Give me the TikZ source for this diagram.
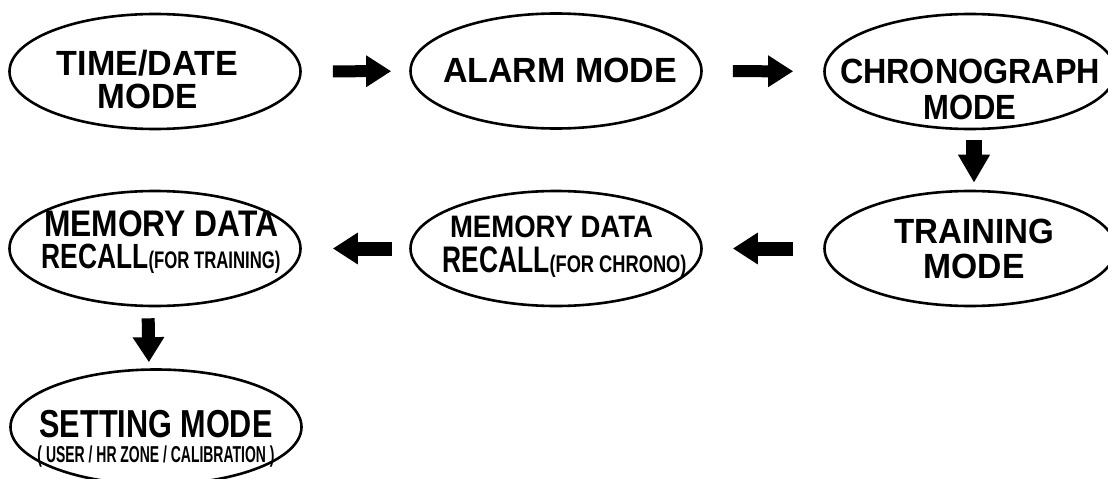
\documentclass[tikz,border=0pt]{standalone}
\usepackage{fontspec}
\setmainfont{Liberation Sans}
\usepackage{graphicx}
\usetikzlibrary{shapes.geometric, arrows.meta, positioning}

% #1 = horizontal shift, #2 = drop of the last baseline below the centre
\newcommand{\modelines}[3]{\raisebox{-#2}[0pt][0pt]{\makebox[0pt]{\kern#1\kern#1\begin{tabular}[b]{@{}c@{}}#3\end{tabular}}}}
\newcommand{\squeeze}[2]{\resizebox{#1}{\height}{#2}}
\newcommand{\fsize}[1]{\fontsize{#1}{#1}\selectfont}

\tikzset{
  modeoval/.style={draw, ellipse, line width=2.6pt, minimum width=291pt, minimum height=115pt, inner sep=0pt, font=\bfseries\fontsize{35}{42}\selectfont},
  bigarrow/.style={line width=12pt, -{Triangle[length=25pt, width=30pt]}},
}

\begin{document}
\begin{tikzpicture}[x=1pt, y=-1pt]
  \useasboundingbox (0,0) rectangle (1108,479);

  % Top row
  \node[modeoval] (timedate) at (155,71.5) {\modelines{-7.5pt}{36.5pt}{\squeeze{181pt}{TIME/DATE}\\[-9pt]\squeeze{100pt}{MODE}}};
  \node[modeoval] (alarm) at (556,71) {\modelines{4pt}{11pt}{\squeeze{234pt}{ALARM MODE}}};
  \node[modeoval] (chrono) at (970,71.5) {\modelines{0pt}{47.5pt}{\squeeze{260pt}{CHRONOGRAPH}\\[-6pt]\squeeze{93pt}{MODE}}};

  % Middle row
  \node[modeoval] (training) at (970,248.5) {\modelines{4pt}{29.5pt}{\squeeze{160pt}{TRAINING}\\[-7pt]\squeeze{101pt}{MODE}}};
  \node[modeoval] (recallchrono) at (556,248.5) {\modelines{2pt}{23.5pt}{\kern-13pt\squeeze{203pt}{\fsize{31}MEMORY DATA}\\[-7pt]\kern13pt\squeeze{107pt}{\fsize{37}RECALL}\squeeze{137pt}{\fsize{24}(FOR CHRONO)}}};
  \node[modeoval] (recalltrain) at (155,248.5) {\modelines{6pt}{19.5pt}{\squeeze{234pt}{\fsize{37}MEMORY DATA}\\[-10pt]\squeeze{107pt}{RECALL}\squeeze{132pt}{\fsize{24}(FOR TRAINING)}}};

  % Bottom
  \node[modeoval] (setting) at (156,427) {\modelines{0pt}{35pt}{\squeeze{233pt}{\fsize{39}SETTING MODE}\\[-17pt]\squeeze{237pt}{\fsize{23}( USER / HR ZONE / CALIBRATION )}}};

  % Arrows
  \draw[bigarrow, shorten <=31pt, shorten >=18pt] (timedate) -- (alarm);
  \draw[bigarrow, shorten <=30pt, shorten >=30pt] (alarm) -- (chrono);
  \draw[bigarrow, line width=16pt, -{Triangle[length=28pt, width=30pt]}, shorten <=10pt, shorten >=7pt] ([xshift=4pt]chrono.south) -- ([xshift=4pt]training.north);
  \draw[bigarrow, line width=14pt, shorten <=30pt, shorten >=30pt] (training) -- (recallchrono);
  \draw[bigarrow, line width=14pt, shorten <=17pt, shorten >=31pt] (recallchrono) -- (recalltrain);
  \draw[bigarrow, line width=13pt, shorten <=11pt, shorten >=6pt] ([xshift=-7pt]recalltrain.south) -- ([xshift=-7pt]setting.north);
\end{tikzpicture}
\end{document}
